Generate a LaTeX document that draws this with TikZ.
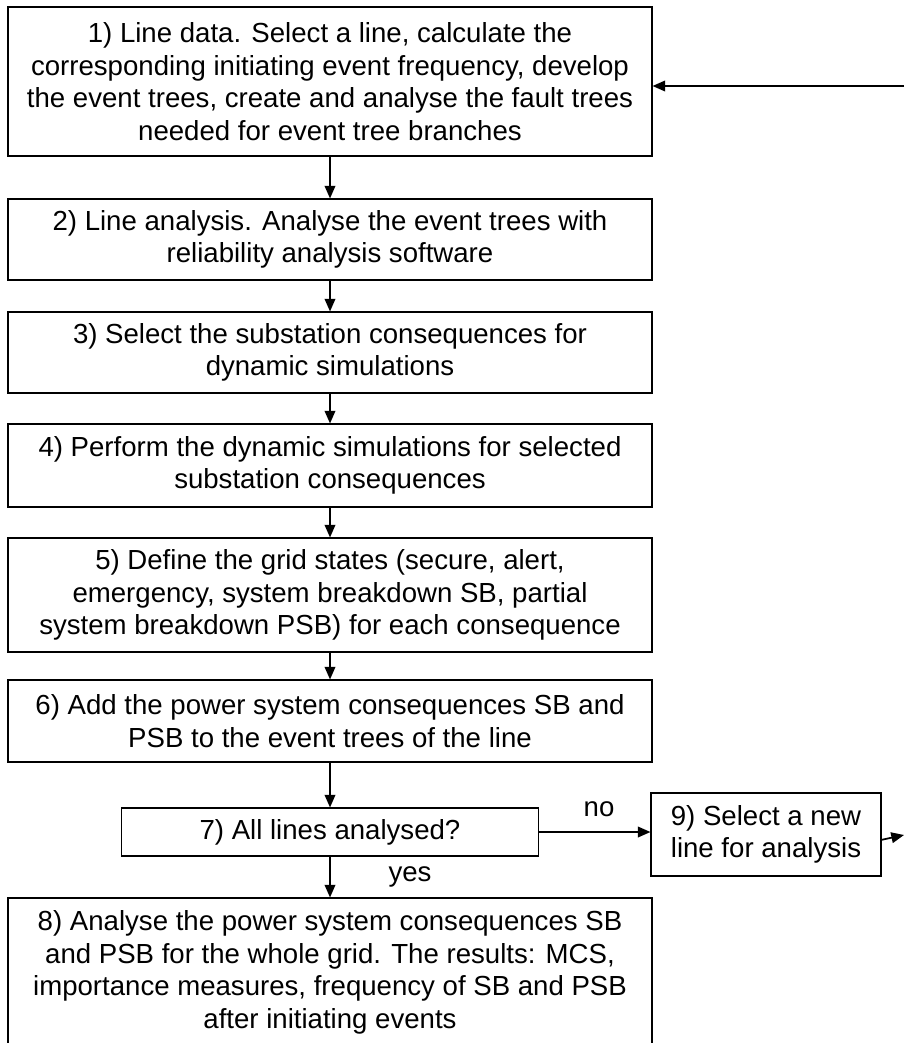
\documentclass[tikz,border=0pt]{standalone}
\usepackage{fontspec}
\setmainfont{Liberation Sans}
\usetikzlibrary{arrows.meta}
\begin{document}
\begin{tikzpicture}[x=0.75pt,y=-0.75pt,
  every node/.style={font=\fontsize{20.7pt}{24.4pt}\selectfont, inner sep=0pt},
  stepbox/.style={draw, line width=0.8pt, align=center, minimum width=483pt},
  flow/.style={line width=1.3pt, -{Triangle[length=9.5pt,width=8pt]}},
  lbl/.style={anchor=center}]
  \useasboundingbox (0,0) rectangle (904,1043);
  \clip (0,0) rectangle (904,1043);

  % main column of steps
  \node[stepbox, minimum height=111.75pt] (s1) at (330,81.5)
    {1) Line data. Select a line, calculate the\\
     corresponding initiating event frequency, develop\\
     the event trees, create and analyse the fault trees\\
     needed for event tree branches};
  \node[stepbox, minimum height=60.75pt] (s2) at (330,239.5)
    {2) Line analysis. Analyse the event trees with\\
     reliability analysis software};
  \node[stepbox, minimum height=60.75pt] (s3) at (330,352.5)
    {3) Select the substation consequences for\\
     dynamic simulations};
  \node[stepbox, minimum height=62.25pt] (s4) at (330,465.5)
    {4) Perform the dynamic simulations for selected\\
     substation consequences};
  \node[stepbox, minimum height=85.5pt] (s5) at (330,595)
    {5) Define the grid states (secure, alert,\\
     emergency, system breakdown SB, partial\\
     system breakdown PSB) for each consequence};
  \node[stepbox, minimum height=61.5pt] (s6) at (330,721)
    {6) Add the power system consequences SB and\\
     PSB to the event trees of the line};
  \node[stepbox, minimum width=312.75pt, minimum height=36pt] (s7) at (330,832)
    {7) All lines analysed?};
  \node[stepbox, minimum height=111.75pt] (s8) at (330,972.5)
    {8) Analyse the power system consequences SB\\
     and PSB for the whole grid. The results: MCS,\\
     importance measures, frequency of SB and PSB\\
     after initiating events};

  % side step for the next line
  \node[stepbox, minimum width=172.5pt, minimum height=62.25pt] (s9) at (766,834.5)
    {9) Select a new\\ line for analysis};

  % connectors
  \draw[flow] (s1) -- (s2);
  \draw[flow] (s2) -- (s3);
  \draw[flow] (s3) -- (s4);
  \draw[flow] (s4) -- (s5);
  \draw[flow] (s5) -- (s6);
  \draw[flow] (s6) -- (s7);
  \draw[flow] (s7) -- (s8);
  \draw[flow] (s7.east) -- (s7.east -| s9.west);

  \coordinate (out9) at (904,835);
  \coordinate (in1) at (904,86);
  \draw[flow] ([yshift=-4pt]s9.east) -- (out9);
  \draw[flow] (in1) -- (s1.east |- in1);

  % branch labels
  \node[lbl] (no) at (599,809) {no};
  \node[lbl] (yes) at (410,877) {yes};
\end{tikzpicture}
\end{document}
